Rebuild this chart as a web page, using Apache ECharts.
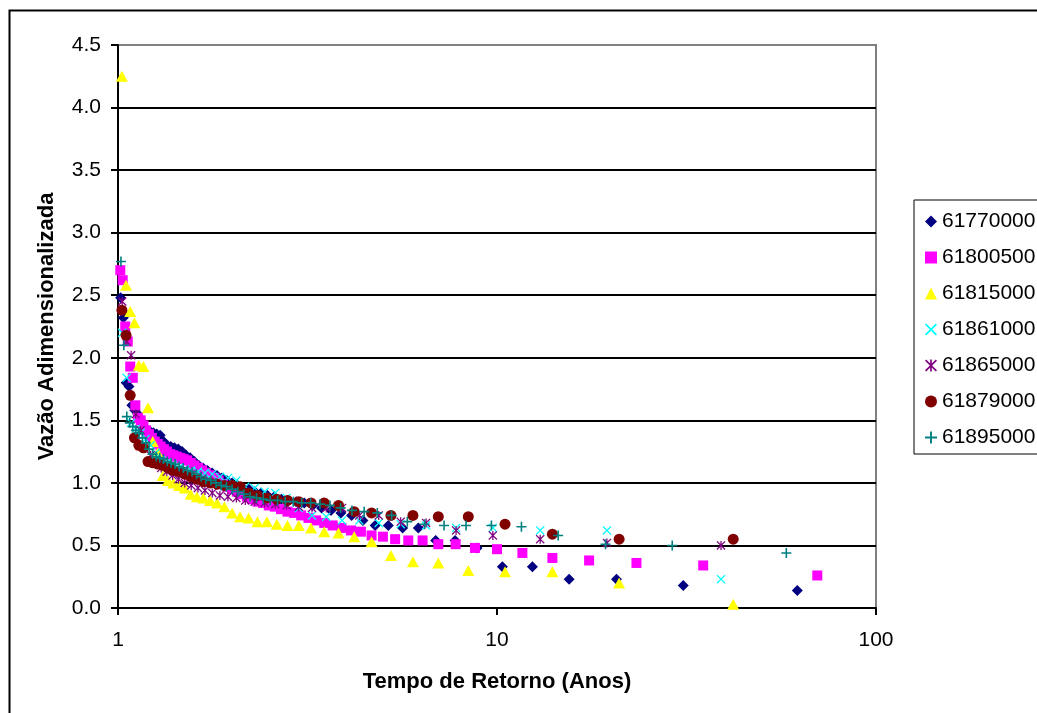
<!DOCTYPE html>
<html>
<head>
<meta charset="utf-8">
<title>Vazão Adimensionalizada x Tempo de Retorno</title>
<script src="https://cdn.jsdelivr.net/npm/echarts@6/dist/echarts.min.js"></script>
<style>
  html, body { margin: 0; padding: 0; background: #fff; }
  #grafico { width: 1037px; height: 713px; }
</style>
</head>
<body>
<div id="grafico"></div>
<script>
// tempos de retorno (anos), por tamanho de serie
var tempo62 = [1.016,1.033,1.051,1.069,1.088,1.107,1.127,1.148,1.170,1.192,
  1.216,1.240,1.265,1.292,1.319,1.348,1.378,1.409,1.442,1.476,
  1.512,1.550,1.590,1.632,1.676,1.722,1.771,1.824,1.879,1.938,
  2.000,2.067,2.138,2.214,2.296,2.385,2.480,2.583,2.696,2.818,
  2.952,3.100,3.263,3.444,3.647,3.875,4.133,4.429,4.769,5.167,
  5.636,6.200,6.889,7.750,8.857,10.333,12.400,15.500,20.667,31.000,
  62.000];
var tempo70 = [1.014,1.029,1.045,1.061,1.077,1.094,1.111,1.129,1.148,1.167,
  1.186,1.207,1.228,1.250,1.273,1.296,1.321,1.346,1.373,1.400,
  1.429,1.458,1.489,1.522,1.556,1.591,1.628,1.667,1.707,1.750,
  1.795,1.842,1.892,1.944,2.000,2.059,2.121,2.188,2.258,2.333,
  2.414,2.500,2.593,2.692,2.800,2.917,3.043,3.182,3.333,3.500,
  3.684,3.889,4.118,4.375,4.667,5.000,5.385,5.833,6.364,7.000,
  7.778,8.750,10.000,11.667,14.000,17.500,23.333,35.000,70.000];
var tempo42 = [1.024,1.050,1.077,1.105,1.135,1.167,1.200,1.235,1.273,1.313,
  1.355,1.400,1.448,1.500,1.556,1.615,1.680,1.750,1.826,1.909,
  2.000,2.100,2.211,2.333,2.471,2.625,2.800,3.000,3.231,3.500,
  3.818,4.200,4.667,5.250,6.000,7.000,8.400,10.500,14.000,21.000,
  42.000];
var tempo39 = [1.026,1.054,1.083,1.114,1.147,1.182,1.219,1.258,1.300,1.345,
  1.393,1.444,1.500,1.560,1.625,1.696,1.773,1.857,1.950,2.053,
  2.167,2.294,2.438,2.600,2.786,3.000,3.250,3.545,3.900,4.333,
  4.875,5.571,6.500,7.800,9.750,13.000,19.500,39.000];
var tempo58 = [1.018,1.036,1.055,1.074,1.094,1.115,1.137,1.160,1.184,1.208,
  1.234,1.261,1.289,1.318,1.349,1.381,1.415,1.450,1.487,1.526,
  1.568,1.611,1.657,1.706,1.758,1.813,1.871,1.933,2.000,2.071,
  2.148,2.231,2.320,2.417,2.522,2.636,2.762,2.900,3.053,3.222,
  3.412,3.625,3.867,4.143,4.462,4.833,5.273,5.800,6.444,7.250,
  8.286,9.667,11.600,14.500,19.333,29.000,58.000];

// vazoes adimensionalizadas de cada posto
var vazao61770000 = [2.48,2.32,1.80,1.77,1.62,1.58,1.55,1.50,1.45,1.42,
  1.41,1.40,1.39,1.38,1.33,1.30,1.29,1.28,1.27,1.25,
  1.22,1.20,1.17,1.14,1.12,1.10,1.08,1.06,1.04,1.02,
  1.00,0.98,0.96,0.95,0.93,0.92,0.90,0.89,0.87,0.86,
  0.85,0.84,0.82,0.80,0.78,0.76,0.74,0.70,0.66,0.66,
  0.64,0.64,0.54,0.54,0.48,0.33,0.33,0.23,0.23,0.18,
  0.14];
var vazao61800500 = [2.70,2.62,2.25,2.13,1.93,1.84,1.62,1.52,1.50,1.46,
  1.42,1.39,1.36,1.33,1.31,1.29,1.27,1.25,1.23,1.22,
  1.21,1.20,1.19,1.18,1.16,1.14,1.12,1.10,1.08,1.06,
  1.04,1.02,0.99,0.97,0.95,0.93,0.91,0.89,0.87,0.85,
  0.84,0.82,0.81,0.79,0.77,0.76,0.74,0.72,0.70,0.68,
  0.66,0.64,0.62,0.61,0.58,0.57,0.55,0.54,0.54,0.51,
  0.51,0.48,0.47,0.44,0.40,0.38,0.36,0.34,0.26];
var vazao61815000 = [4.25,2.58,2.37,2.28,1.94,1.93,1.60,1.33,1.24,1.06,
  1.02,1.00,0.98,0.96,0.91,0.89,0.88,0.86,0.84,0.81,
  0.76,0.73,0.72,0.69,0.69,0.67,0.66,0.66,0.64,0.61,
  0.60,0.57,0.53,0.42,0.37,0.36,0.30,0.29,0.29,0.20,
  0.03];
var vazao61861000 = [2.20,1.84,1.48,1.43,1.40,1.35,1.30,1.24,1.18,1.16,
  1.14,1.12,1.11,1.10,1.09,1.08,1.07,1.05,1.04,1.02,
  0.97,0.96,0.93,0.92,0.88,0.80,0.74,0.73,0.70,0.70,
  0.68,0.67,0.66,0.64,0.64,0.62,0.62,0.23];
var vazao61865000 = [2.45,2.13,2.02,1.55,1.42,1.30,1.22,1.16,1.12,1.09,
  1.06,1.03,1.00,0.98,0.96,0.94,0.92,0.90,0.89,0.88,
  0.86,0.85,0.84,0.83,0.82,0.81,0.80,0.80,0.80,0.74,
  0.74,0.69,0.68,0.62,0.58,0.55,0.52,0.50];
var vazao61879000 = [2.38,2.18,1.70,1.36,1.30,1.28,1.17,1.16,1.15,1.14,
  1.12,1.10,1.09,1.07,1.05,1.03,1.01,1.00,0.99,0.98,
  0.98,0.97,0.92,0.90,0.88,0.87,0.86,0.85,0.84,0.84,
  0.82,0.77,0.76,0.74,0.74,0.73,0.73,0.67,0.59,0.55,
  0.55];
var vazao61895000 = [2.77,2.10,1.53,1.48,1.45,1.42,1.40,1.36,1.32,1.27,
  1.23,1.21,1.20,1.19,1.17,1.16,1.15,1.13,1.12,1.10,
  1.09,1.07,1.05,1.03,1.02,1.00,0.98,0.97,0.95,0.93,
  0.91,0.89,0.88,0.87,0.86,0.86,0.85,0.85,0.84,0.84,
  0.83,0.82,0.80,0.78,0.77,0.76,0.74,0.69,0.67,0.66,
  0.66,0.66,0.65,0.58,0.51,0.50,0.44];

var postos = ['61770000','61800500','61815000','61861000','61865000','61879000','61895000'];

// simbolos estilo excel
var simboloX = 'path://M1,0L5,4L9,0L10,1L6,5L10,9L9,10L5,6L1,10L0,9L4,5L0,1Z';
var simboloAsterisco = 'path://M1,0L5,4L9,0L10,1L6,5L10,9L9,10L5,6L1,10L0,9L4,5L0,1ZM4.3,0H5.7V10H4.3Z';
var simboloMais = 'path://M4.2,0H5.8V4.2H10V5.8H5.8V10H4.2V5.8H0V4.2H4.2Z';

var fonte = 'Liberation Sans';

function serie(nome, tempos, vazoes, simbolo, tamanho, cor) {
    var pontos = [];
    for (var i = 0; i < tempos.length; i++) {
        pontos.push([tempos[i], vazoes[i]]);
    }
    return {
        name: nome,
        type: 'scatter',
        data: pontos,
        symbol: simbolo,
        symbolSize: tamanho,
        itemStyle: { color: cor, opacity: 1 },
        emphasis: { disabled: true }
    };
}

var grafico = echarts.init(document.getElementById('grafico'));

var corGrade = ['#000','#000','#000','#000','#000','#000','#000','#000','#000','#808080'];

var opcao = {
    animation: false,
    backgroundColor: '#fff',
    graphic: [{
        type: 'rect',
        left: 7, top: 8,
        shape: { width: 1200, height: 900 },
        style: { fill: 'none', stroke: '#000', lineWidth: 2 },
        z: -1
    }],
    grid: {
        left: 118, top: 45, right: 161, bottom: 105,
        show: true,
        borderColor: '#808080',
        borderWidth: 2
    },
    legend: {
        orient: 'vertical',
        left: 914, top: 200,
        data: postos,
        selectedMode: false,
        borderColor: '#000',
        borderWidth: 1,
        padding: [11, 12, 6, 11],
        itemWidth: 12, itemHeight: 12,
        itemGap: 15,
        textStyle: { fontFamily: fonte, fontSize: 21, color: '#000', lineHeight: 21 }
    },
    xAxis: {
        type: 'log',
        logBase: 10,
        min: 1, max: 100,
        name: 'Tempo de Retorno (Anos)',
        nameLocation: 'middle',
        nameGap: 63,
        nameTextStyle: { fontFamily: fonte, fontSize: 22, fontWeight: 'bold', color: '#000' },
        axisLine: { lineStyle: { color: '#000', width: 2 } },
        axisTick: { show: true, length: 7, lineStyle: { color: '#000', width: 2 } },
        minorTick: { show: false },
        splitLine: { show: false },
        axisLabel: {
            fontFamily: fonte, fontSize: 21, color: '#000', margin: 22,
            formatter: function (v) { return String(v); }
        }
    },
    yAxis: {
        type: 'value',
        min: 0, max: 4.5, interval: 0.5,
        name: 'Vazão Adimensionalizada',
        nameLocation: 'middle',
        nameGap: 60,
        nameTextStyle: { fontFamily: fonte, fontSize: 22, fontWeight: 'bold', color: '#000' },
        axisLine: { show: true, lineStyle: { color: '#000', width: 2 } },
        axisTick: { show: true, length: 7, lineStyle: { color: '#000', width: 2 } },
        splitLine: { show: true, lineStyle: { color: corGrade, width: 2 } },
        axisLabel: {
            fontFamily: fonte, fontSize: 21, color: '#000', margin: 17,
            formatter: function (v) { return v.toFixed(1); }
        }
    },
    series: [
        serie('61770000', tempo62, vazao61770000, 'diamond', 11, '#000080'),
        serie('61800500', tempo70, vazao61800500, 'rect', 10, '#FF00FF'),
        serie('61815000', tempo42, vazao61815000, 'triangle', [12, 11], '#FFFF00'),
        serie('61861000', tempo39, vazao61861000, simboloX, 9, '#00FFFF'),
        serie('61865000', tempo39, vazao61865000, simboloAsterisco, 9, '#800080'),
        serie('61879000', tempo42, vazao61879000, 'circle', 11, '#800000'),
        serie('61895000', tempo58, vazao61895000, simboloMais, 10, '#008080')
    ]
};

grafico.setOption(opcao);
window.addEventListener('resize', function () {
    grafico.resize();
});
</script>
</body>
</html>
